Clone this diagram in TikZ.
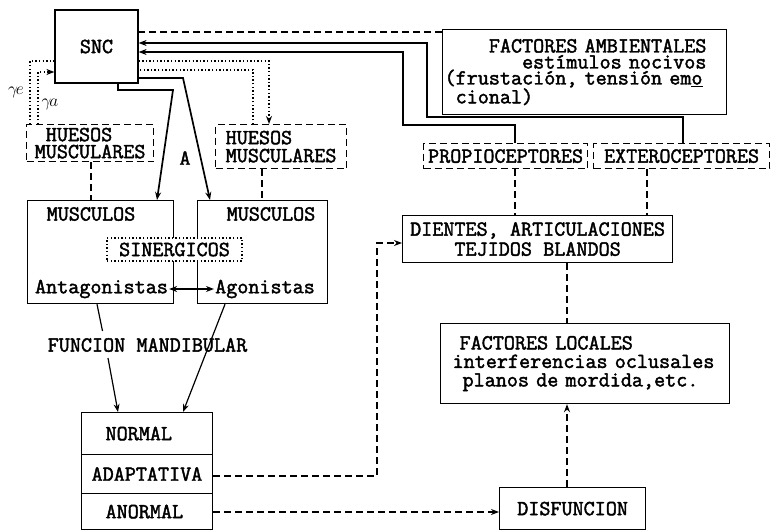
\documentclass[tikz,border=0pt]{standalone}
\usepackage{fontspec}
\setmainfont{Latin Modern Mono}[FakeBold=2]
\usetikzlibrary{arrows.meta}
\newcommand\mytf[2]{\fontsize{#1}{#2}\selectfont\spaceskip=0.525em\relax}
\begin{document}
\begin{tikzpicture}[x=1pt,y=-1pt,
  every node/.style={font=\mytf{21.5}{16}},
  bx/.style={draw,line width=1.2pt,inner sep=0pt},
  dbx/.style={draw,line width=1.2pt,inner sep=0pt,dash pattern=on 7pt off 4pt},
  dotbx/.style={draw,line width=1.4pt,inner sep=0pt,dash pattern=on 1.4pt off 2.2pt,fill=white},
  txt/.style={inner sep=0pt},
  dsh/.style={line width=1.3pt,dash pattern=on 7pt off 4pt},
  dotln/.style={line width=1.4pt,dash pattern=on 1.4pt off 2.2pt},
  sln/.style={line width=1.2pt},
  thk/.style={line width=1.7pt},
  >={Stealth[length=8pt,width=6pt]}
]
\useasboundingbox (0,0) rectangle (771,532);

% nodes
\node[bx,minimum width=83pt,minimum height=73pt] (snc) at (96.5,46.5) {SNC};
\node[bx,anchor=north west,text width=280pt,inner xsep=2pt,minimum height=85pt,align=left] (fa) at (442,29)
  {\phantom{FACT}FACTORES AMBIENTALES\\\phantom{FACTORE}estímulos nocivos\\(frustación, tensión em\underline{o}\\\phantom{(}cional)};
\node[dbx,anchor=north west,minimum width=127pt,minimum height=37pt,align=left,font=\mytf{21.5}{17}] (hm1) at (26,124) {\phantom{M}HUESOS\\MUSCULARES};
\node[dbx,anchor=north west,minimum width=131pt,minimum height=44pt,align=left,font=\mytf{21.5}{18}] (hm2) at (215,124) {HUESOS\\MUSCULARES};
\node[txt] (lblA) at (185,158) {A};
\node[txt] (ge) at (16,92) {\fontsize{19}{19}\selectfont$\gamma\mkern-2mu e$};
\node[txt] (ga) at (50,104) {\fontsize{19}{19}\selectfont$\gamma\mkern-2mu a$};

\node[dbx,anchor=north west,minimum width=164pt,minimum height=25pt] (propio) at (423,143) {PROPIOCEPTORES};
\node[dbx,anchor=north west,minimum width=176pt,minimum height=25pt] (extero) at (593,143) {EXTEROCEPTORES};

\node[bx,anchor=north west,minimum width=146pt,minimum height=103pt] (mus1) at (27,200) {};
\node[bx,anchor=north west,minimum width=130pt,minimum height=103pt] (mus2) at (197,200) {};
\node[txt] (mus1t) at (91,214) {MUSCULOS};
\node[txt] (mus2t) at (271,214) {MUSCULOS};
\node[txt] (antag) at (101.5,289) {Antagonistas};
\node[txt] (agon) at (265,289) {Agonistas};
\node[dotbx,minimum width=135pt,minimum height=23pt] (sin) at (174.5,249.5) {SINERGICOS};
\node[txt] (fm) at (147.5,345) {FUNCION MANDIBULAR};

\node[bx,anchor=north west,minimum width=270pt,minimum height=47pt,align=center,font=\mytf{21.5}{20}] (dientes) at (402,215) {DIENTES, ARTICULACIONES\\TEJIDOS BLANDOS};
\node[bx,anchor=north west,text width=281pt,inner xsep=4pt,minimum height=80pt,align=left,font=\mytf{21.5}{18.5}] (locales) at (440,323)
  {\hspace*{15pt}FACTORES LOCALES\\\hspace*{8pt}interferencias oclusales\\\hspace*{18pt}planos de mordida,etc.};

\node[bx,anchor=north west,minimum width=131pt,minimum height=42pt,text width=111pt,inner xsep=10pt,align=left] (normal) at (81,412) {\hspace*{14pt}NORMAL};
\node[bx,anchor=north west,minimum width=131pt,minimum height=39pt,text width=111pt,inner xsep=10pt,align=left] (adapt) at (81,454) {ADAPTATIVA};
\node[bx,anchor=north west,minimum width=131pt,minimum height=36pt,text width=111pt,inner xsep=10pt,align=left] (anormal) at (81,493) {\hspace*{14pt}ANORMAL};
\node[bx,anchor=north west,minimum width=146pt,minimum height=42pt] (disf) at (499,487) {DISFUNCION};

% helper coordinates
\coordinate (fmL1) at (102.5,331);
\coordinate (fmL2) at (108,358);

% connectors
\draw[dsh] (fa.west |- 0,32) -- (snc.east |- 0,32);
\draw[thk,->] (extero.north -| 683,0) -- (683,117) -- (427,117) -- (427,43) -- (snc.east |- 0,43);
\draw[thk,->] (propio.north -| 515,0) -- (515,125) -- (403,125) -- (403,52) -- (snc.east |- 0,52);
\draw[dotln,->] (snc.east |- 0,61) -- (269,61) -- (hm2.north -| 269,0);
\draw[dotln] (hm2.north -| 253,0) -- (253,70) -- (snc.east |- 0,70);
\draw[dotln] (hm1.north -| 30,0) -- (30,61) -- (snc.west |- 0,61);
\draw[dotln,->] (hm1.north -| 38,0) -- (38,72) -- (snc.west |- 0,72);
\draw[thk,->] (snc.south -| 118,0) -- (118,90) -- (173,90) -- (mus1.north -| 157,0);
\draw[thk,->] (snc.east |- 0,78) -- (183,78) -- (mus2.north -| 210,0);
\draw[dsh] (hm1.south -| 91,0) -- (mus1.north -| 91,0);
\draw[dsh] (hm2.south -| 262,0) -- (mus2.north -| 262,0);
\draw[sln,<->,shorten <=1pt,shorten >=1pt] (antag.east) -- (agon.west);
\draw[sln] (mus1.south -| 97,0) -- (fmL1);
\draw[sln,->] (fmL2) -- (normal.north -| 118,0);
\draw[sln,->] (mus2.south -| 225,0) -- (normal.north -| 183,0);
\draw[dsh,->] (adapt.east |- 0,476) -- (377,476) -- (377,243) -- (dientes.west |- 0,243);
\draw[dsh,->] (anormal.east |- 0,512) -- (disf.west |- 0,512);
\draw[dsh,->] (disf.north -| 567,0) -- (locales.south -| 567,0);
\draw[dsh] (dientes.south -| 567,0) -- (locales.north -| 567,0);
\draw[dsh] (propio.south -| 515,0) -- (dientes.north -| 515,0);
\draw[dsh] (extero.south -| 647,0) -- (dientes.north -| 647,0);
\end{tikzpicture}
\end{document}
